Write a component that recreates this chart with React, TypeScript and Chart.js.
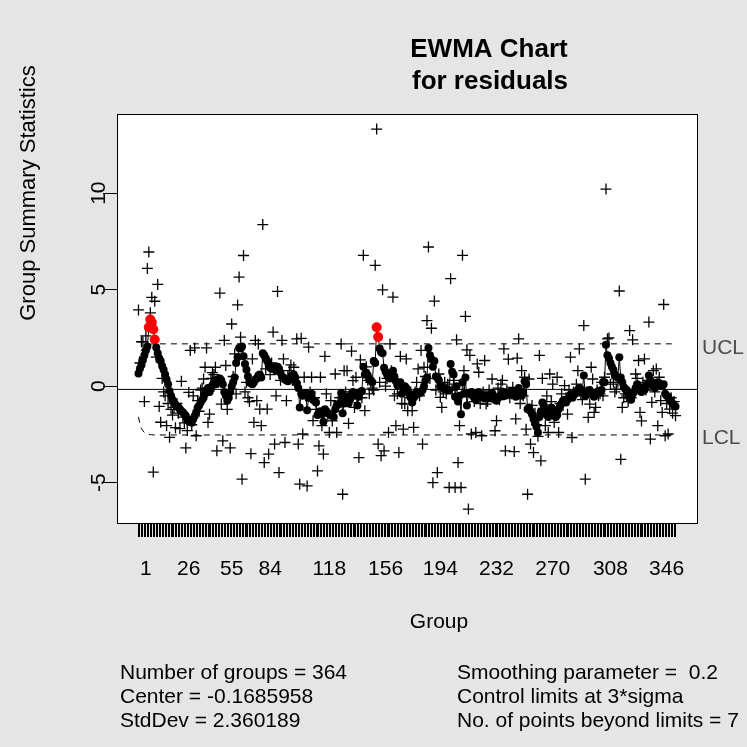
import React, { useEffect, useRef } from 'react';
import { Chart, registerables } from 'chart.js';

Chart.register(...registerables);

// Group summary statistics (plus signs), one per group 1..364
const groupStats: number[] = [
  3.95, 1.2, 2.3, 2.3, -0.8, 2.6, 6.1, 6.95, 3.8, 4.6,
  -4.45, 4.4, 1.5, 5.27, -1.05, -1.87, 0.4, -0.3, -0.5, -2.05,
  -0.9, -2.65, -1.2, -1.5, -1.1, -2.15, -0.9, -1.4, -2.2, 0.25,
  -1.6, -1.9, -3.2, -2.3, -0.32, 1.85, -2.0, -0.5, 1.98, -2.57,
  -0.75, -1.3, -0.2, -0.1, 0.37, 0.98, 1.98, -1.88, -1.45, 0.4,
  0.7, 0.6, 0.98, -3.35, 0.2, 4.82, -0.93, -2.83, 2.37, 1.07,
  -1.2, -0.3, -3.2, 3.22, 0.5, 1.67, -0.4, 4.21, 5.65, 2.54,
  -4.82, 6.77, -0.3, 0.2, -0.6, -0.8, -3.5, 1.41, -1.88, 2.37,
  -0.75, 2.19, -1.19, -2.05, 8.37, -3.96, 0.9, -1.19, -3.52, 0.6,
  1.2, 2.8, -3.0, -0.5, 4.91, -4.48, 0.3, 2.37, 1.41, -2.92,
  -0.75, 0.5, 0.8, 1.1, 0.3, 0.98, 0.2, 2.45, -3.0, -5.08,
  2.48, -2.48, 0.46, -0.5, -5.17, 2.02, -0.3, 0.46, -1.79, -0.6,
  -1.2, -4.39, -3.09, 0.46, -2.05, -3.52, 1.54, -0.4, -1.5, -2.4,
  -0.75, -1.8, -1.3, 0.63, -2.4, -0.8, -0.6, 2.19, -5.6, 0.8,
  -0.3, 0.8, -1.93, -0.5, 1.81, 0.29, -1.1, 0.46, -0.6, -3.7,
  1.36, -0.6, 6.78, -1.27, 1.0, 0.3, -0.4, 0.2, -0.1, -0.2,
  6.26, 13.32, -3.0, 0.2, -3.6, 4.99, -3.35, 0.0, 0.4, -2.4,
  2.19, 0.8, 4.61, -0.5, -2.05, -0.4, -3.44, 1.54, -0.9, -2.23,
  -0.93, 1.41, -1.27, -0.6, -0.3, -1.27, -2.14, -0.3, 0.2, 0.89,
  -0.5, 1.85, -3.0, 0.98, 0.5, 3.4, 7.21, 0.4, 3.0, -5.0,
  4.41, -0.2, -4.48, 0.63, -0.58, -1.1, -0.3, 0.2, -0.4, 0.1,
  -5.25, 5.57, -0.2, 0.3, -5.25, 2.4, -3.96, -2.05, -5.25, 6.78,
  0.8, 3.61, 1.88, -6.37, 1.59, -2.48, -0.4, -0.8, -2.4, 1.15,
  0.72, -0.9, -2.57, -0.3, 1.33, -0.93, -0.8, -0.2, -0.5, 0.37,
  -0.6, -2.31, -1.79, -0.1, -0.7, 0.1, 0.3, 1.93, -3.35, -0.2,
  1.4, -0.6, -0.4, -0.06, -3.39, -1.7, 1.45, 2.45, -0.9, 0.8,
  -0.5, 0.46, -2.23, -5.6, 0.37, -3.0, -1.0, -3.44, -1.4, -2.0,
  -2.6, 1.59, -3.87, 0.4, -1.2, -2.05, -0.5, -2.4, 0.63, -0.8,
  0.1, -1.88, -1.5, 0.46, -2.4, -0.9, -0.4, -1.0, 0.03, -0.6,
  -1.45, -0.2, 1.5, -2.66, -0.3, -0.5, 0.1, 0.8, 1.93, -0.4,
  -0.7, 3.14, -4.82, -0.3, -1.62, -0.93, 0.98, 0.37, -1.36, -1.1,
  -0.2, -0.5, -0.4, 0.2, -0.5, 0.46, 10.21, 2.45, 2.5, 0.1,
  0.63, 0.2, -0.3, -0.15, 0.2, 4.93, -3.79, -1.1, -0.6, -0.4,
  -0.5, -0.8, 2.88, -0.6, 2.4, -0.3, 0.63, 0.4, 1.33, -1.36,
  -1.8, 0.2, 1.41, -0.2, 0.3, 3.32, -2.74, -0.84, 0.8, -0.3,
  0.89, -2.05, 0.46, -0.75, -1.36, 4.23, -2.57, -0.9, -2.48, -1.19, -0.6, -1.4, -0.8, -1.53,
];

// EWMA statistic (dots joined by a line), one per group 1..364
const ewmaValues: number[] = [
  0.65, 0.92, 1.1, 1.35, 1.6, 1.85, 2.05, 3.05, 3.45, 3.3,
  2.95, 2.42, 2.0, 1.7, 1.45, 1.3, 1.05, 0.85, 0.6, 0.35,
  0.1, -0.25, -0.5, -0.7, -0.85, -0.95, -1.05, -1.1, -1.2, -1.3,
  -1.35, -1.45, -1.55, -1.7, -1.8, -1.85, -1.9, -1.7, -1.55, -1.35,
  -1.1, -1.0, -0.85, -0.7, -0.6, -0.4, -0.2, -0.1, -0.3, -0.15,
  0.05, 0.2, 0.1, 0.35, 0.3, 0.4, 0.3, 0.1, -0.3, -0.5,
  -0.75, -0.6, -0.3, 0.0, 0.2, 0.45, 1.2, 1.5, 1.98, 1.95,
  2.05, 1.55, 1.15, 0.85, 0.5, 0.2, 0.15, 0.1, 0.2, 0.35,
  0.4, 0.55, 0.6, 0.45, 1.7, 1.6, 1.45, 1.3, 1.1, 0.95,
  0.9, 0.95, 1.0, 0.8, 1.0, 0.9, 0.7, 0.5, 0.45, 0.35,
  0.3, 0.25, 0.35, 0.5, 0.55, 0.6, 0.45, 0.15, -0.1, -1.1,
  -0.4, -0.5, -0.4, -0.35, -1.25, -0.6, -0.55, -0.4, -0.7, -0.75,
  -0.85, -1.5, -1.35, -1.3, -1.45, -1.85, -1.2, -1.3, -1.4, -1.45,
  -1.5, -1.55, -1.6, -1.2, -1.0, -0.95, -0.9, -0.35, -1.4, -0.9,
  -0.6, -0.55, -0.9, -0.7, -0.4, -0.3, -0.5, -0.4, -1.0, -0.55,
  -0.3, -0.25, 1.0, 0.6, 0.7, 0.55, 0.35, 0.3, 0.2, 1.3,
  1.2, 3.05, 2.55, 1.95, 1.75, 1.7, 0.95, 0.75, 0.6, 0.45,
  0.4, 0.6, 0.8, 0.5, 0.25, 0.05, 0.1, 0.2, -0.4, 0.0,
  0.0, -0.1, -0.3, -0.4, -0.6, -0.85, -0.6, -0.5, -0.3, -0.4,
  -0.35, -0.3, -0.2, 0.0, 0.3, 0.45, 1.98, 1.6, 1.4, 1.0,
  1.3, 0.5, 0.45, 0.3, 0.0, 0.02, -0.1, -0.15, -0.15, -0.2,
  -0.2, 1.15, 0.75, 0.6, -0.55, 0.0, -0.8, -0.5, -1.45, 0.2,
  -0.4, 0.45, -1.0, -0.4, -0.35, -0.3, -0.5, -0.6, -0.7, -0.35,
  -0.3, -0.45, -0.55, -0.6, -0.5, -0.55, -0.6, -0.5, -0.45, -0.35,
  -0.5, -0.7, -0.75, -0.6, -0.55, -0.45, -0.3, -0.3, -0.5, -0.45,
  -0.4, -0.3, -0.35, -0.25, -0.4, -0.55, -0.4, -0.1, -0.3, -0.5,
  -0.3, 0.25, 0.1, -1.2, -1.1, -1.3, -1.45, -1.7, -1.9, -2.1,
  -2.4, -1.6, -1.3, -0.85, -1.0, -1.3, -1.5, -1.6, -1.35, -1.1,
  -1.2, -1.4, -1.6, -1.5, -1.2, -1.0, -0.9, -0.8, -0.7, -0.85,
  -0.7, -0.6, -0.45, -0.6, -0.5, -0.4, -0.3, -0.2, -0.1, -0.3,
  -0.2, 0.55, -0.5, -0.45, -0.35, -0.2, -0.35, -0.45, -0.55, -0.4,
  -0.3, -0.25, -0.3, -0.2, 0.2, 0.2, 2.15, 1.6, 1.45, 1.2,
  1.0, 0.85, 0.6, 0.5, 0.45, 1.5, 0.45, 0.2, -0.05, -0.15,
  -0.2, -0.35, -0.5, -0.7, -0.4, -0.3, -0.1, 0.1, 0.0, -0.2,
  -0.3, -0.1, -0.2, 0.0, 0.1, 0.55, 0.3, 0.2, 0.0, -0.1,
  0.0, 0.2, 0.15, 0.05, 0.0, 0.1, -0.4, -0.5, -0.55, -0.7, -0.8, -0.9, -1.0, -1.05,
];

const centerValue = -0.1685958;
// half-width of the control limits for the first groups, then the steady value
const earlyLimitHalfWidths: number[] = [1.42, 1.81, 2.03, 2.15, 2.23, 2.28, 2.31, 2.33, 2.34, 2.35, 2.355, 2.358];
const steadyLimitHalfWidth = 2.36;

// x-axis labels and the group positions where they are drawn
const tickLabelGroups: number[] = [6, 35, 64, 90, 130, 168, 205, 243, 281, 320, 358];
const tickLabels: string[] = ['1', '26', '55', '84', '118', '156', '194', '232', '270', '308', '346'];
const yTickValues: number[] = [-5, 0, 5, 10];

const statsLeft: string[] = ['Number of groups = 364', 'Center = -0.1685958', 'StdDev = 2.360189'];
const statsRight: string[] = ['Smoothing parameter =  0.2', 'Control limits at 3*sigma', 'No. of points beyond limits = 7'];

const FONT = '"Liberation Sans", Arial, Helvetica, sans-serif';

export default function App() {
  const canvasRef = useRef<HTMLCanvasElement>(null);

  useEffect(() => {
    const canvas = canvasRef.current;
    if (!canvas) return;
    const n = groupStats.length;
    const groups = groupStats.map((_, i) => i + 1);
    const halfWidth = (g: number) =>
      g <= earlyLimitHalfWidths.length ? earlyLimitHalfWidths[g - 1] : steadyLimitHalfWidth;

    const xMin = 1 - 0.04 * (n - 1);
    const xMax = n + 0.04 * (n - 1);

    const statsPts = groupStats.map((v, i) => ({ x: i + 1, y: v }));
    const ewmaPts = ewmaValues.map((v, i) => ({ x: i + 1, y: v }));
    const beyond = ewmaValues.map(
      (v, i) => v > centerValue + halfWidth(i + 1) || v < centerValue - halfWidth(i + 1)
    );
    const limitGroups = groups.filter((g) => g <= earlyLimitHalfWidths.length + 1 || g === n);
    const uclPts = limitGroups.map((g) => ({ x: g, y: centerValue + halfWidth(g) }));
    const lclPts = limitGroups.map((g) => ({ x: g, y: centerValue - halfWidth(g) }));
    const centerPts = [
      { x: xMin, y: centerValue },
      { x: xMax, y: centerValue },
    ];

    const decorPlugin = {
      id: 'decor',
      beforeDraw(chart: any) {
        const { ctx, chartArea: a } = chart;
        ctx.save();
        ctx.fillStyle = '#e5e5e5';
        ctx.fillRect(0, 0, chart.width, chart.height);
        ctx.fillStyle = '#ffffff';
        ctx.fillRect(a.left, a.top, a.right - a.left, a.bottom - a.top);
        ctx.restore();
      },
      afterDraw(chart: any) {
        const { ctx, chartArea: a } = chart;
        const yScale = chart.scales.y;
        ctx.save();
        // box
        ctx.strokeStyle = '#000';
        ctx.lineWidth = 1;
        ctx.strokeRect(Math.round(a.left) + 0.5, Math.round(a.top) + 0.5,
          Math.round(a.right - a.left), Math.round(a.bottom - a.top));

        ctx.fillStyle = '#000';
        // title
        ctx.font = 'bold 26px ' + FONT;
        ctx.textAlign = 'center';
        ctx.textBaseline = 'alphabetic';
        ctx.fillText('EWMA Chart', 489, 57);
        ctx.fillText('for residuals', 490, 89);

        // y tick labels (rotated)
        ctx.font = '21px ' + FONT;
        yTickValues.forEach((v) => {
          const y = yScale.getPixelForValue(v);
          ctx.save();
          ctx.translate(105, y);
          ctx.rotate(-Math.PI / 2);
          ctx.textAlign = 'center';
          ctx.fillText(String(v), 0, 0);
          ctx.restore();
        });

        // y axis title
        ctx.save();
        ctx.font = '22px ' + FONT;
        ctx.translate(35, 193);
        ctx.rotate(-Math.PI / 2);
        ctx.textAlign = 'center';
        ctx.fillText('Group Summary Statistics', 0, 0);
        ctx.restore();

        // x axis title
        ctx.font = '21px ' + FONT;
        ctx.textAlign = 'center';
        ctx.fillText('Group', 439, 628);

        // UCL / LCL labels
        ctx.fillStyle = '#4d4d4d';
        ctx.textAlign = 'left';
        ctx.textBaseline = 'middle';
        ctx.fillText('UCL', 702, yScale.getPixelForValue(centerValue + steadyLimitHalfWidth) + 4);
        ctx.fillText('LCL', 702, yScale.getPixelForValue(centerValue - steadyLimitHalfWidth) + 3);

        // statistics text
        ctx.fillStyle = '#000';
        ctx.textBaseline = 'alphabetic';
        statsLeft.forEach((t, i) => ctx.fillText(t, 120, 679 + i * 24));
        statsRight.forEach((t, i) => ctx.fillText(t, 457, 679 + i * 24));
        ctx.restore();
      },
    };

    const chart = new Chart(canvas, {
      type: 'scatter',
      data: {
        datasets: [
          {
            label: 'EWMA',
            data: ewmaPts,
            showLine: true,
            borderColor: '#000',
            borderWidth: 1,
            pointRadius: beyond.map((b) => (b ? 5 : 4)),
            pointBackgroundColor: beyond.map((b) => (b ? '#ff0000' : '#000000')),
            pointBorderWidth: 0,
            pointHoverRadius: 0,
            order: 0,
          },
          {
            label: 'UCL',
            data: uclPts,
            showLine: true,
            borderColor: '#000',
            borderWidth: 1,
            borderDash: [6, 5],
            pointRadius: 0,
            order: 1,
          },
          {
            label: 'LCL',
            data: lclPts,
            showLine: true,
            borderColor: '#000',
            borderWidth: 1,
            borderDash: [6, 5],
            pointRadius: 0,
            order: 1,
          },
          {
            label: 'Center',
            data: centerPts,
            showLine: true,
            borderColor: '#000',
            borderWidth: 1,
            pointRadius: 0,
            order: 2,
          },
          {
            label: 'Statistics',
            data: statsPts,
            showLine: false,
            pointStyle: 'cross',
            pointRadius: 5.5,
            pointBorderWidth: 1.3,
            borderColor: '#000',
            pointBorderColor: '#000',
            pointHoverRadius: 0,
            order: 3,
          },
        ],
      },
      options: {
        responsive: false,
        animation: false,
        devicePixelRatio: 1,
        events: [],
        layout: { padding: { left: 0, right: 50, top: 114, bottom: 0 } },
        plugins: {
          legend: { display: false },
          title: { display: false },
          tooltip: { enabled: false },
        },
        scales: {
          x: {
            type: 'linear',
            min: xMin,
            max: xMax,
            border: { display: false },
            grid: {
              display: true,
              drawOnChartArea: false,
              drawTicks: true,
              tickLength: 14,
              color: '#000',
              lineWidth: 1,
            },
            afterBuildTicks: (scale: any) => {
              scale.ticks = groups.map((g) => ({ value: g }));
            },
            afterFit: (scale: any) => {
              scale.height = 224;
            },
            ticks: {
              autoSkip: false,
              maxRotation: 0,
              minRotation: 0,
              padding: 20,
              color: '#000',
              font: { family: FONT, size: 21 },
              callback: (value: any) => {
                const k = tickLabelGroups.indexOf(Number(value));
                return k >= 0 ? tickLabels[k] : '';
              },
            },
          },
          y: {
            type: 'linear',
            min: -7.09,
            max: 14.1,
            border: { display: false },
            grid: {
              display: true,
              drawOnChartArea: false,
              drawTicks: true,
              tickLength: 14,
              color: '#000',
              lineWidth: 1,
            },
            afterBuildTicks: (scale: any) => {
              scale.ticks = yTickValues.map((v) => ({ value: v }));
            },
            afterFit: (scale: any) => {
              scale.width = 117;
            },
            ticks: { display: false },
          },
        },
      },
      plugins: [decorPlugin],
    } as any);

    return () => {
      chart.destroy();
    };
  }, []);

  return (
    <div style={{ position: 'absolute', left: 0, top: 0, width: 747, height: 747 }}>
      <canvas ref={canvasRef} width={747} height={747} style={{ width: 747, height: 747, display: 'block' }} />
    </div>
  );
}
